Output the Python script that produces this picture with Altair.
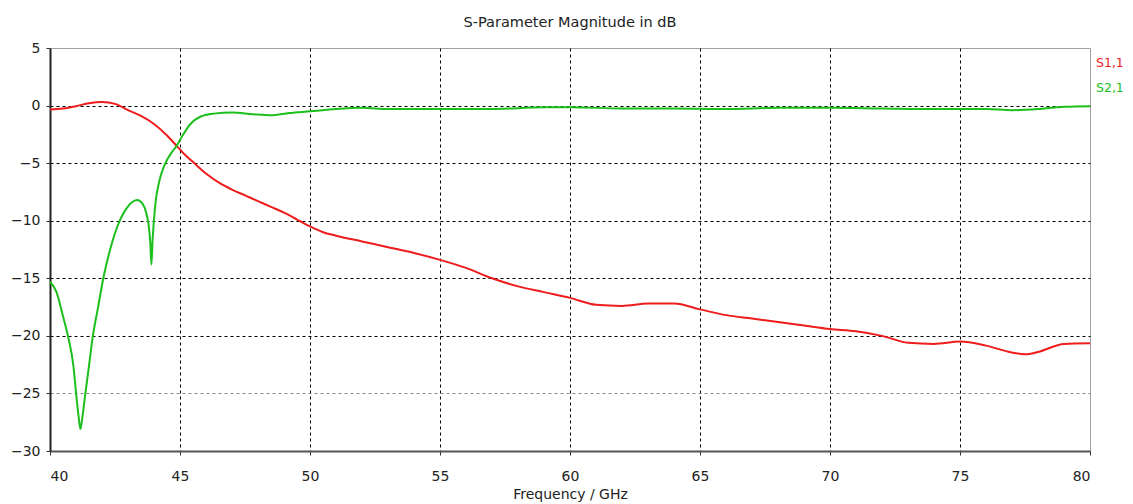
import altair as alt
import pandas as pd

# ---- data ----
series_names = ["S1,1", "S2,1"]
series_colors = ["#ee1c1c", "#1cbf1c"]

s11_freq = [40, 40.5, 41, 41.5, 42, 42.5, 43, 43.5, 44, 44.5, 44.87, 45.2, 45.5, 46, 46.5,
            47, 47.5, 48, 48.5, 49, 49.5, 50, 50.5, 51, 52, 53, 54, 55, 56, 57, 58, 59,
            60, 61, 62, 63, 64, 65, 66, 67, 68, 69, 70, 71, 72, 73, 74, 75, 76, 77,
            77.5, 78, 79, 80]
s11_db = [-0.35, -0.25, -0.05, 0.2, 0.3, 0.15, -0.4, -0.9, -1.6, -2.6, -3.5, -4.3, -4.9,
          -5.9, -6.7, -7.3, -7.8, -8.3, -8.8, -9.3, -9.9, -10.5, -11.0, -11.3, -11.8,
          -12.3, -12.8, -13.4, -14.1, -15.0, -15.7, -16.2, -16.7, -17.3, -17.4, -17.2,
          -17.2, -17.7, -18.2, -18.5, -18.8, -19.1, -19.4, -19.6, -20.0, -20.6, -20.7,
          -20.5, -20.85, -21.45, -21.6, -21.4, -20.7, -20.65]

s21_freq = [40, 40.25, 40.5, 40.7, 40.9, 41.0, 41.1, 41.17, 41.25, 41.35, 41.5, 41.65,
            41.85, 42.05, 42.3, 42.7, 42.95, 43.15, 43.35, 43.55, 43.7, 43.8, 43.86,
            43.9, 43.95, 44.05, 44.2, 44.4, 44.7, 44.87, 45.1, 45.4, 45.8, 46.3, 47.0,
            47.8, 48.5, 49.2, 50, 51, 52, 53, 55, 57, 59, 60, 62, 64, 66, 68, 70, 72,
            74, 76, 77, 78, 79, 80]
s21_db = [-15.3, -16.2, -18.3, -20.1, -22.6, -24.9, -27.0, -28.1, -27.0, -25.2, -22.6,
          -20.0, -17.5, -15.0, -12.6, -9.9, -8.9, -8.4, -8.2, -8.5, -9.3, -10.5, -12.0,
          -13.8, -11.5, -8.6, -6.6, -5.2, -4.0, -3.5, -2.6, -1.6, -0.95, -0.7, -0.6,
          -0.75, -0.85, -0.65, -0.5, -0.3, -0.2, -0.3, -0.3, -0.3, -0.15, -0.15, -0.25,
          -0.25, -0.3, -0.2, -0.2, -0.25, -0.3, -0.3, -0.4, -0.3, -0.1, -0.05]

x_ticks = [40, 45, 50, 55, 60, 65, 70, 75, 80]
y_ticks = [5, 0, -5, -10, -15, -20, -25, -30]

title_text = "S-Parameter Magnitude in dB"
x_title = "Frequency / GHz"

FONT = "DejaVu Sans"

df = pd.concat([
    pd.DataFrame({"freq": s11_freq, "db": s11_db, "series": series_names[0]}),
    pd.DataFrame({"freq": s21_freq, "db": s21_db, "series": series_names[1]}),
], ignore_index=True)

lines = alt.Chart(df).mark_line(strokeWidth=2, interpolate="monotone").encode(
    x=alt.X("freq:Q",
            scale=alt.Scale(domain=[40, 80], nice=False, zero=False),
            axis=alt.Axis(values=x_ticks, title=x_title, grid=True,
                          gridColor="#000000",
                          gridOpacity={"condition": {"test": "datum.value == 40 || datum.value == 80", "value": 0}, "value": 1},
                          domainColor="#555555", domainWidth=2,
                          tickSize=4, tickColor="#333333", labelPadding=14,
                          titlePadding=4)),
    y=alt.Y("db:Q",
            scale=alt.Scale(domain=[-30, 5], nice=False, zero=False),
            axis=alt.Axis(values=y_ticks, title=None, grid=True,
                          gridOpacity={"condition": {"test": "datum.value == 5 || datum.value == -30", "value": 0}, "value": 1},
                          gridColor={"condition": {"test": "datum.value == -25", "value": "#888888"}, "value": "#000000"},
                          domainColor="#222222", domainWidth=2,
                          tickSize=4, tickColor="#333333", labelPadding=6)),
    color=alt.Color("series:N", scale=alt.Scale(domain=series_names, range=series_colors), legend=None),
)

legend_rows = [14.5, 39.5]
texts = []
for name, col, ypix in zip(series_names, series_colors, legend_rows):
    texts.append(
        alt.Chart(pd.DataFrame({"label": [name]})).mark_text(
            align="left", baseline="middle", fontSize=12.5, font=FONT
        ).encode(text="label:N", x=alt.value(1046), y=alt.value(ypix), color=alt.value(col))
    )

chart = alt.layer(lines, *texts).properties(
    width=1040, height=403,
    title=alt.TitleParams(title_text, fontSize=14.5, font=FONT, fontWeight="normal",
                          color="#222222", anchor="middle", offset=11),
    autosize=alt.AutoSizeParams(type="none"),
    padding={"left": 42, "top": 40, "right": 35, "bottom": 56},
).configure_view(
    stroke="#a0a0a0", strokeWidth=1
).configure_axis(
    labelFont=FONT, labelFontSize=14, labelColor="#222222",
    titleFont=FONT, titleFontSize=14, titleFontWeight="normal", titleColor="#222222",
    gridDash=[3, 3], gridWidth=1,
)

chart.save("out.html", embed_options={"renderer": "svg", "actions": False})
